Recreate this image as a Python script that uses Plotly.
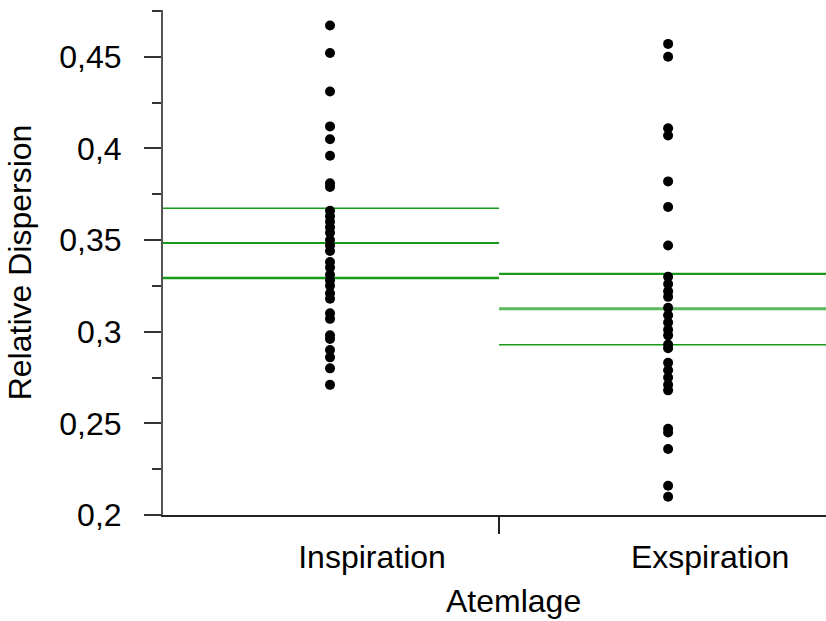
import plotly.graph_objects as go

categories = ["Inspiration", "Exspiration"]
insp_values = [0.467, 0.452, 0.431, 0.412, 0.405, 0.396, 0.381, 0.379, 0.366, 0.363,
               0.360, 0.357, 0.354, 0.350, 0.347, 0.344, 0.338, 0.335, 0.331, 0.328,
               0.325, 0.321, 0.318, 0.310, 0.307, 0.298, 0.296, 0.290, 0.286, 0.280, 0.271]
exsp_values = [0.457, 0.450, 0.411, 0.407, 0.382, 0.368, 0.347, 0.330, 0.326, 0.322,
               0.319, 0.313, 0.309, 0.305, 0.301, 0.298, 0.293, 0.291, 0.283, 0.279,
               0.275, 0.271, 0.268, 0.247, 0.245, 0.236, 0.216, 0.210]
# upper CI, mean, lower CI
insp_stats = [0.3674, 0.3484, 0.3293]
exsp_stats = [0.3315, 0.3125, 0.2929]
y_ticks = [0.2, 0.25, 0.3, 0.35, 0.4, 0.45]

FONT = "Arial, Liberation Sans, sans-serif"
GREEN = "#1a9a1a"

fig = go.Figure()

stat_styles = [(GREEN, 1.5), (GREEN, 2.2), (GREEN, 2.6)]
exsp_styles = [(GREEN, 2.2), ("#5cb85c", 3), (GREEN, 1.6)]
for i, (stats, styles) in enumerate([(insp_stats, stat_styles), (exsp_stats, exsp_styles)]):
    for v, (c, w) in zip(stats, styles):
        fig.add_trace(go.Scatter(x=[i - 0.5, i + 0.5], y=[v, v], mode="lines",
                                 line=dict(color=c, width=w), showlegend=False,
                                 hoverinfo="skip"))

for i, vals in enumerate([insp_values, exsp_values]):
    fig.add_trace(go.Scatter(x=[i] * len(vals), y=vals, mode="markers",
                             marker=dict(color="black", size=10), showlegend=False,
                             name=categories[i]))

fig.update_layout(
    width=826, height=621,
    margin=dict(l=163, r=0, t=10, b=106),
    plot_bgcolor="white", paper_bgcolor="white",
    separators=",.",
    font=dict(family=FONT, color="black"),
    xaxis=dict(
        range=[-0.494, 1.467],
        tickvals=[0, 1], ticktext=categories,
        ticks="", showgrid=False, zeroline=False,
        showline=True, linecolor="#222", linewidth=2,
        tickfont=dict(size=32, family=FONT),
        ticklabelstandoff=13,
        ticklabelshift=42,
        minor=dict(tick0=0.5, dtick=1, ticks="outside", ticklen=17,
                   tickcolor="#222", tickwidth=2, showgrid=False),
    ),
    yaxis=dict(
        range=[0.2, 0.4755],
        tickvals=y_ticks,
        ticks="outside", ticklen=17, tickwidth=2, tickcolor="#333",
        showgrid=False, zeroline=False,
        showline=True, linecolor="#555", linewidth=2,
        tickfont=dict(size=32, family=FONT),
        ticklabelstandoff=16,
        minor=dict(tick0=0.225, dtick=0.05, ticks="outside", ticklen=9,
                   tickcolor="#333", tickwidth=2, showgrid=False),
        title=dict(text="Relative Dispersion", font=dict(size=32, family=FONT), standoff=18),
    ),
    annotations=[dict(text="Atemlage", x=(513 - 163) / 663, y=0, xref="paper", yref="paper",
                      yshift=-86, showarrow=False, font=dict(size=32, family=FONT),
                      xanchor="center", yanchor="middle")],
)

fig.write_html("out.html")
